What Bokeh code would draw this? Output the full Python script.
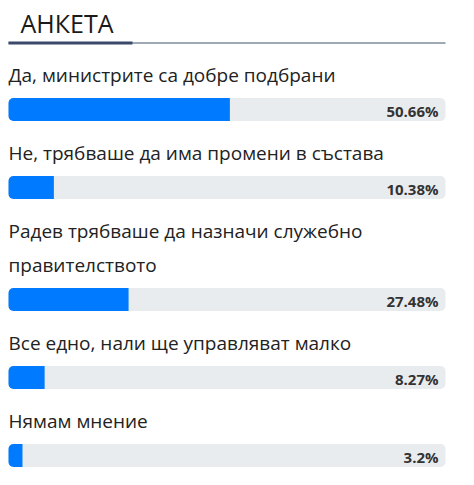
from bokeh.plotting import figure
from bokeh.models import Range1d, ColumnDataSource
from bokeh.core.properties import value
from bokeh.embed import file_html
from bokeh.resources import INLINE

title = "АНКЕТА"
labels = [
    ["Да, министрите са добре подбрани"],
    ["Не, трябваше да има промени в състава"],
    ["Радев трябваше да назначи служебно", "правителството"],
    ["Все едно, нали ще управляват малко"],
    ["Нямам мнение"],
]
values = [50.66, 10.38, 27.48, 8.27, 3.2]
value_labels = ["50.66%", "10.38%", "27.48%", "8.27%", "3.2%"]

W, H = 466, 477
LEFT = 8          # px offset of track start
TRACK_PX = 437    # px length of 100%
def px(v):        # convert a pixel x into percent units
    return (v - LEFT) * 100 / TRACK_PX

p = figure(width=W, height=H, output_backend="svg", toolbar_location=None,
           x_range=Range1d(px(0), px(W)), y_range=Range1d(H, 0),
           min_border=0, outline_line_color=None)
p.axis.visible = False
p.grid.visible = False
p.background_fill_color = "white"
p.border_fill_color = "white"

# title + underline
p.text(x=[px(20)], y=[22.5], text=[title], text_font=value("Open Sans"),
       text_font_size="25px", text_color="#1a1a1a", text_baseline="middle", text_align="left")
p.segment(x0=[0], x1=[100], y0=[42.5], y1=[42.5], line_color="#3d566e", line_width=1)
p.segment(x0=[0], x1=[px(132)], y0=[42.5], y1=[42.5], line_color="#3b4a6b", line_width=3)

LINE_PITCH = 34
BAR_GAP = 28
NEXT_GAP = 50
lx, ly, lt = [], [], []
bar_y = []
y = 81
for lines in labels:
    for i, t in enumerate(lines):
        lx.append(0); ly.append(y - 6.5); lt.append(t)
        if i < len(lines) - 1:
            y += LINE_PITCH
    y += BAR_GAP
    bar_y.append(y)
    y += NEXT_GAP

p.text(x=lx, y=ly, text=lt, text_font=value("Open Sans"), text_font_size="19px",
       text_color="#222222", text_baseline="middle", text_align="left")

src = ColumnDataSource(dict(y=bar_y, v=values, full=[100] * len(values), lab=value_labels,
                            tx=[px(438)] * len(values), ty=[b + 1 for b in bar_y]))
p.hbar(y="y", left=0, right="full", height=23, source=src, fill_color="#e9ecef",
       line_color=None, border_radius=5)
p.hbar(y="y", left=0, right="v", height=23, source=src, fill_color="#007bff",
       line_color=None, border_radius=[5, 0, 0, 5])
p.text(x="tx", y="ty", text="lab", source=src, text_font=value("Open Sans"),
       text_font_size="15px", text_font_style="bold", text_color="#333333",
       text_baseline="middle", text_align="right")

open("out.html", "w").write(file_html(p, INLINE))
